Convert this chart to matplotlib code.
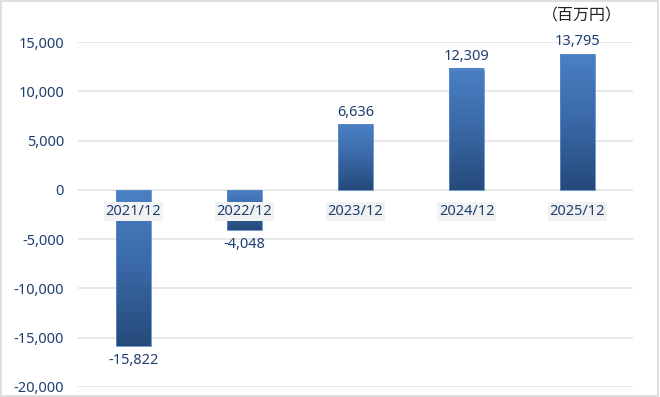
import matplotlib
matplotlib.use("Agg")
import matplotlib.pyplot as plt
import numpy as np
from matplotlib.colors import LinearSegmentedColormap
from matplotlib.patches import Rectangle

categories = ["2021/12", "2022/12", "2023/12", "2024/12", "2025/12"]
values = [-15822, -4048, 6636, 12309, 13795]
value_labels = ["-15,822", "-4,048", "6,636", "12,309", "13,795"]
yticks = [-20000, -15000, -10000, -5000, 0, 5000, 10000, 15000]
ytick_labels = ["-20,000", "-15,000", "-10,000", "-5,000", "0", "5,000", "10,000", "15,000"]
unit_label = "（百万円）"

plt.rcParams['font.family'] = ['Noto Sans', 'Noto Sans CJK JP', 'DejaVu Sans']
text_color = "#1f3f73"

fig = plt.figure(figsize=(6.6, 3.97), dpi=100)
ax = fig.add_axes([78/660, 1 - 387/397, (633-78)/660, (387-42)/397])

ax.set_xlim(-0.5, len(categories) - 0.5)
ax.set_ylim(-20000, 15000)
ax.set_yticks(yticks)
ax.set_yticklabels(ytick_labels, color=text_color, fontsize=10.5)
ax.set_xticks([])
ax.tick_params(axis='y', length=0, pad=10)
for s in ax.spines.values():
    s.set_visible(False)
ax.grid(axis='y', color='#e3e3e3', linewidth=1.2)
ax.set_axisbelow(True)

cmap = LinearSegmentedColormap.from_list("g", ["#254a7a", "#3a68a6", "#4a80c4"])
grad = np.linspace(0, 1, 256).reshape(-1, 1)
width = 0.31
for i, v in enumerate(values):
    top = max(v, 0)
    bot = min(v, 0)
    ax.imshow(grad, extent=[i - width/2, i + width/2, bot, top], origin='lower',
              cmap=cmap, aspect='auto', zorder=2, interpolation='bilinear')
    ax.add_patch(Rectangle((i - width/2, bot), width, top - bot, fill=False,
                           edgecolor='#5b8bd0', linewidth=0.6, zorder=3))
    if v >= 0:
        ax.text(i, v + 1250, value_labels[i], ha='center', va='center',
                color=text_color, fontsize=10.5, zorder=4)
    else:
        ax.text(i, v - 1500, value_labels[i], ha='center', va='center',
                color=text_color, fontsize=10.5, zorder=4)
    ax.text(i, -2150, categories[i], ha='center', va='center', color=text_color,
            fontsize=10.5, zorder=5,
            bbox=dict(facecolor='#f2f2f2', edgecolor='none', pad=1.5))

ax.set_xlim(-0.5, len(categories) - 0.5)
ax.set_ylim(-20000, 15000)

fig.text(582/660, 1 - 16/397, unit_label, ha='center', va='center',
         color='#222222', fontsize=11.5)

fig.patches.append(Rectangle((0.002, 0.003), 0.995, 0.994, transform=fig.transFigure,
                             fill=False, edgecolor='#d9d9d9', linewidth=1.2))

fig.savefig("out.png", dpi=100)
